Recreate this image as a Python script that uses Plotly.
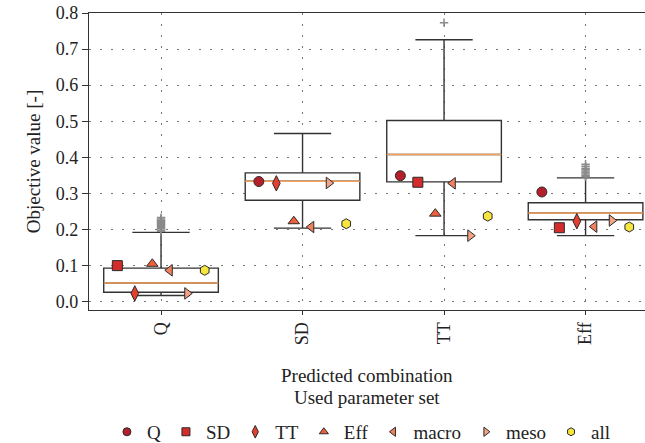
import plotly.graph_objects as go

# ---------------- data ----------------
categories = ["Q", "SD", "TT", "Eff"]

# box statistics per predicted combination
box_lower = [0.017, 0.204, 0.183, 0.183]
box_q1 = [0.026, 0.281, 0.332, 0.227]
box_median = [0.052, 0.334, 0.408, 0.246]
box_q3 = [0.093, 0.357, 0.502, 0.274]
box_upper = [0.192, 0.466, 0.726, 0.343]

# outliers (category index, value)
outlier_cat = [0, 0, 0, 0, 0, 0, 0, 0, 0, 0, 0, 0, 0, 2, 3, 3, 3, 3, 3, 3, 3, 3, 3]
outlier_val = [0.195, 0.198, 0.202, 0.205, 0.208, 0.211, 0.214, 0.217, 0.220, 0.223,
               0.226, 0.229, 0.233, 0.773, 0.346, 0.350, 0.354, 0.358, 0.362, 0.366,
               0.370, 0.375, 0.381]

# used parameter set results (None = same set as predicted combination)
series_names = ["Q", "SD", "TT", "Eff", "macro", "meso", "all"]
series_values = {
    "Q":     [None, 0.333, 0.349, 0.304],
    "SD":    [0.100, None, 0.331, 0.205],
    "TT":    [0.023, 0.328, None, 0.223],
    "Eff":   [0.105, 0.223, 0.244, None],
    "macro": [0.087, 0.207, 0.328, 0.208],
    "meso":  [0.023, 0.329, 0.183, 0.225],
    "all":   [0.087, 0.216, 0.237, 0.207],
}

# ---------------- styles ----------------
symbols = {"Q": "circle", "SD": "square", "TT": "diamond-tall", "Eff": "triangle-up",
           "macro": "triangle-left", "meso": "triangle-right", "all": "hexagon"}
colors = {"Q": "#b3202a", "SD": "#d42b2b", "TT": "#e5402f", "Eff": "#ef5f3c",
          "macro": "#f2805f", "meso": "#f4a384", "all": "#f6e43f"}
sizes = {"Q": 10, "SD": 10, "TT": 11, "Eff": 10, "macro": 10, "meso": 10, "all": 10}
legend_sizes = {"Q": 8, "SD": 8, "TT": 9, "Eff": 8, "macro": 8, "meso": 8, "all": 8}

FONT = "Liberation Serif"
BOX_W = 0.81
SLOT = 0.1235
LINE_C = "#333333"

fig = go.Figure()

xs = list(range(len(categories)))
fig.add_trace(go.Box(
    x=xs, q1=box_q1, median=box_median, q3=box_q3,
    lowerfence=box_lower, upperfence=box_upper,
    width=BOX_W, whiskerwidth=0.5,
    fillcolor="white", line=dict(color=LINE_C, width=1.4),
    boxpoints=False, showlegend=False, hoverinfo="skip",
))

# median lines in orange
for i, m in enumerate(box_median):
    fig.add_trace(go.Scatter(
        x=[i - BOX_W / 2, i + BOX_W / 2], y=[m, m], mode="lines",
        line=dict(color="#f5a05a", width=1.5), showlegend=False, hoverinfo="skip",
    ))

# outliers
fig.add_trace(go.Scatter(
    x=outlier_cat, y=outlier_val, mode="markers",
    marker=dict(symbol="cross-thin-open", size=6, color="#8a8a8a",
                line=dict(color="#8a8a8a", width=1.5)),
    showlegend=False, hoverinfo="skip",
))

# parameter set markers, 6 slots per category skipping the matching set
for name in series_names:
    px, py = [], []
    for ci, cat in enumerate(categories):
        others = [s for s in series_names if s != cat]
        v = series_values[name][ci]
        if name in others and v is not None:
            k = others.index(name)
            px.append(ci + (k - 2.5) * SLOT)
            py.append(v)
    fig.add_trace(go.Scatter(
        x=px, y=py, mode="markers", name=name, showlegend=False,
        marker=dict(symbol=symbols[name], size=sizes[name], color=colors[name],
                    line=dict(color="#2a2a2a", width=1)),
    ))
    # legend entry with smaller symbol
    fig.add_trace(go.Scatter(
        x=[None], y=[None], mode="markers", name=name,
        marker=dict(symbol=symbols[name], size=legend_sizes[name], color=colors[name],
                    line=dict(color="#2a2a2a", width=1)),
    ))

fig.update_layout(
    width=645, height=443,
    margin=dict(l=89, r=0, t=13, b=133),
    paper_bgcolor="white", plot_bgcolor="white",
    font=dict(family=FONT, size=18, color="#222222"),
    legend=dict(orientation="h", x=0.49, xanchor="center",
                yref="container", y=0.025, yanchor="middle",
                font=dict(family=FONT, size=19), itemwidth=30,
                bgcolor="rgba(0,0,0,0)"),
    annotations=[
        dict(text="Predicted combination", xref="paper", yref="paper",
             x=0.5, y=-0.222, yanchor="middle", showarrow=False,
             font=dict(family=FONT, size=19)),
        dict(text="Used parameter set", xref="paper", yref="paper",
             x=0.5, y=-0.296, yanchor="middle", showarrow=False,
             font=dict(family=FONT, size=19)),
    ],
)

fig.update_xaxes(
    range=[-0.509, 3.42], tickvals=xs, ticktext=categories, tickangle=-90,
    ticks="outside", ticklen=4, tickcolor=LINE_C, automargin=False,
    showline=True, linecolor=LINE_C, linewidth=1.3, mirror=True,
    showgrid=True, gridcolor="#777777", griddash="2px,9px", gridwidth=1.3,
    zeroline=False, tickfont=dict(family=FONT, size=18),
)
fig.update_yaxes(
    range=[-0.023, 0.8], tickvals=[0, 0.1, 0.2, 0.3, 0.4, 0.5, 0.6, 0.7, 0.8],
    tickformat=".1f", ticks="outside", ticklen=6, tickcolor=LINE_C, automargin=False,
    showline=True, linecolor=LINE_C, linewidth=1.3, mirror=True,
    showgrid=True, gridcolor="#777777", griddash="2px,9px", gridwidth=1.3,
    zeroline=False, tickfont=dict(family=FONT, size=18),
    title=dict(text="Objective value [-]", font=dict(family=FONT, size=19), standoff=10),
)

fig.write_html("out.html", config={"displayModeBar": False},
               post_script="document.body.style.margin='0px';")
